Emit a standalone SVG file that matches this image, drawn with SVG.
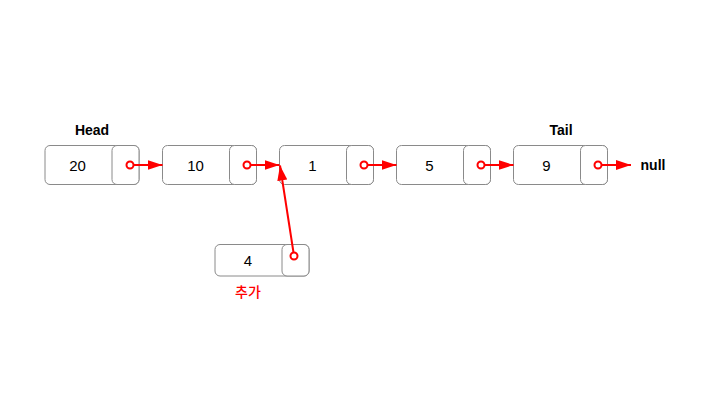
<svg xmlns="http://www.w3.org/2000/svg" width="720" height="405" viewBox="0 0 720 405">
<defs>
<marker id="ah" viewBox="0 0 15 10" refX="15" refY="5" markerWidth="15" markerHeight="10" markerUnits="userSpaceOnUse" orient="auto">
<path d="M0,0 L15,5 L0,10 Z" fill="#ff0000"/>
</marker>
<style>
.box{fill:#fff;stroke:#8a8a8a;stroke-width:1}
.val{font-family:"Liberation Sans",Arial,sans-serif;font-size:15px;fill:#000;text-anchor:middle}
.lbl{font-family:"Liberation Sans",Arial,sans-serif;font-size:14px;font-weight:bold;fill:#000;text-anchor:middle}
.dot{fill:#fff;stroke:#ff0000;stroke-width:2}
.edge{stroke:#ff0000;stroke-width:2;fill:none;marker-end:url(#ah)}
</style>
</defs>
<rect width="720" height="405" fill="#fff"/>
<text class="lbl" x="92" y="135">Head</text>
<text class="lbl" x="561" y="135">Tail</text>
<g id="n20">
<rect class="box" x="45" y="145.5" width="94" height="39" rx="5"/>
<rect class="box" x="112" y="145.5" width="27" height="39" rx="5"/>
<text class="val" x="77.5" y="170.5">20</text>
</g>
<g id="n10">
<rect class="box" x="162.5" y="145.5" width="94" height="39" rx="5"/>
<rect class="box" x="229.5" y="145.5" width="27" height="39" rx="5"/>
<text class="val" x="195.5" y="170.5">10</text>
</g>
<g id="n1">
<rect class="box" x="279.5" y="145.5" width="94" height="39" rx="5"/>
<rect class="box" x="346.5" y="145.5" width="27" height="39" rx="5"/>
<text class="val" x="312.5" y="170.5">1</text>
</g>
<g id="n5">
<rect class="box" x="396.5" y="145.5" width="94" height="39" rx="5"/>
<rect class="box" x="463.5" y="145.5" width="27" height="39" rx="5"/>
<text class="val" x="429.5" y="170.5">5</text>
</g>
<g id="n9">
<rect class="box" x="513.5" y="145.5" width="94" height="39" rx="5"/>
<rect class="box" x="580.5" y="145.5" width="27" height="39" rx="5"/>
<text class="val" x="546.5" y="170.5">9</text>
</g>
<g id="null">
<text class="lbl" x="653" y="170">null</text>
</g>
<g id="n4">
<rect class="box" x="215" y="244.5" width="94" height="31.5" rx="5"/>
<rect class="box" x="282" y="244.5" width="27" height="31.5" rx="5"/>
<text class="val" x="248" y="266">4</text>
</g>
<text x="248" y="297" font-family="'Noto Sans CJK KR','Liberation Sans',sans-serif" font-size="14" font-weight="500" fill="#ff0000" text-anchor="middle">추가</text>
<g id="connectors">
<line class="edge" x1="133.5" y1="165" x2="162.5" y2="165"/>
<line class="edge" x1="250.5" y1="165" x2="279.5" y2="165"/>
<line class="edge" x1="367.5" y1="165" x2="396.5" y2="165"/>
<line class="edge" x1="484.5" y1="165" x2="513.5" y2="165"/>
<line class="edge" x1="601.5" y1="165" x2="631" y2="165"/>
<line class="edge" x1="293.5" y1="252.5" x2="280" y2="165.5"/>
<circle class="dot" cx="130" cy="165" r="3.5"/>
<circle class="dot" cx="247" cy="165" r="3.5"/>
<circle class="dot" cx="364" cy="165" r="3.5"/>
<circle class="dot" cx="481" cy="165" r="3.5"/>
<circle class="dot" cx="598" cy="165" r="3.5"/>
<circle class="dot" cx="294" cy="256" r="3.5"/>
</g>
</svg>
